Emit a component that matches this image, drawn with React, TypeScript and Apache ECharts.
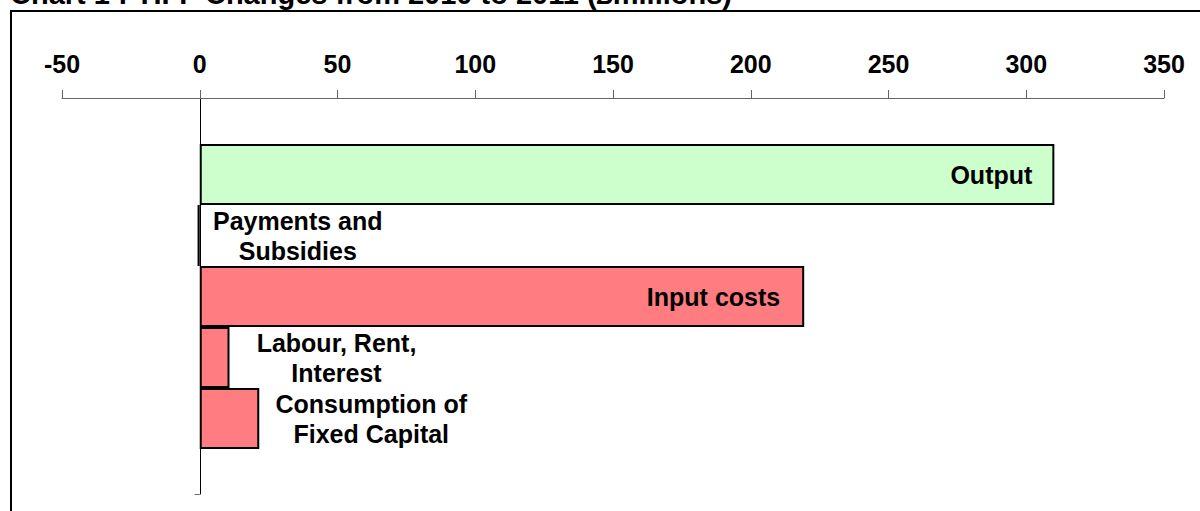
import React, { useEffect, useRef } from "react";
import * as echarts from "echarts";

const titleText = "Chart 1 : TIFF Changes from 2010 to 2011 (£millions)";
const categories = [
  "Output",
  "Payments and\nSubsidies",
  "Input costs",
  "Labour, Rent,\nInterest",
  "Consumption of\nFixed Capital",
];
const values = [310.2, -0.8, 219.4, 10.8, 21.6];
const xTicks = { min: -50, max: 350, interval: 50 };

const FONT = "'Liberation Sans', Arial, Helvetica, sans-serif";

const barStyles = [
  { color: "#CCFFCC", label: { position: "insideRight", distance: 22, align: "right" } },
  { color: "#FFFFFF", label: { position: "right", distance: 98, align: "center" } },
  { color: "#FF7C80", label: { position: "insideRight", distance: 24, align: "right" } },
  { color: "#FF7C80", label: { position: "right", distance: 107, align: "center" } },
  { color: "#FF7C80", label: { position: "right", distance: 112, align: "center" } },
];

export default function App() {
  const ref = useRef<HTMLDivElement>(null);
  useEffect(() => {
    if (!ref.current) return;
    const chart = echarts.init(ref.current, null, { renderer: "svg" });
    const data = values.map((v, i) => ({
      value: v,
      itemStyle: { color: barStyles[i].color, borderColor: "#000", borderWidth: 2 },
      label: {
        show: true,
        formatter: categories[i],
        position: barStyles[i].label.position,
        distance: barStyles[i].label.distance,
        align: barStyles[i].label.align,
        verticalAlign: "middle",
        fontFamily: FONT,
        fontWeight: "bold",
        fontSize: 25,
        lineHeight: 30,
        color: "#000",
      },
    }));
    chart.setOption({
      animation: false,
      backgroundColor: "#fff",
      grid: [
        { left: 62, right: 36, top: 98, bottom: 17 },
        { left: 62, right: 36, top: 144, bottom: 62 },
      ],
      xAxis: [
        {
          gridIndex: 0,
          type: "value",
          position: "top",
          min: xTicks.min,
          max: xTicks.max,
          interval: xTicks.interval,
          axisLine: { show: true, onZero: false, lineStyle: { color: "#666", width: 1 } },
          axisTick: { show: true, length: 8, lineStyle: { color: "#666", width: 1 } },
          axisLabel: {
            margin: 22,
            fontFamily: FONT,
            fontWeight: "bold",
            fontSize: 25,
            color: "#000",
          },
          splitLine: { show: false },
        },
        {
          gridIndex: 1,
          type: "value",
          min: xTicks.min,
          max: xTicks.max,
          interval: xTicks.interval,
          show: false,
        },
      ],
      yAxis: [
        {
          gridIndex: 0,
          type: "category",
          data: [""],
          axisLine: { show: true, onZero: true, lineStyle: { color: "#000", width: 1 } },
          axisTick: { show: true, length: 5, lineStyle: { color: "#666", width: 1 } },
          axisLabel: { show: false },
          splitLine: { show: false },
        },
        {
          gridIndex: 1,
          type: "category",
          inverse: true,
          data: categories,
          show: false,
        },
      ],
      graphic: [
        {
          type: "rect",
          shape: { x: 11, y: 11, width: 1400, height: 800 },
          style: { fill: "none", stroke: "#000", lineWidth: 2 },
          silent: true,
        },
        {
          type: "text",
          x: 10,
          y: -21,
          style: {
            text: titleText,
            font: `bold 29px ${FONT}`,
            fill: "#000",
            verticalAlign: "top",
          },
          silent: true,
        },
      ],
      series: [
        {
          type: "bar",
          xAxisIndex: 1,
          yAxisIndex: 1,
          data,
          barWidth: "100%",
          barCategoryGap: "0%",
        },
      ],
    });
    return () => chart.dispose();
  }, []);
  return (
    <div
      ref={ref}
      style={{ position: "fixed", left: 0, top: 0, width: 1200, height: 511 }}
    />
  );
}
